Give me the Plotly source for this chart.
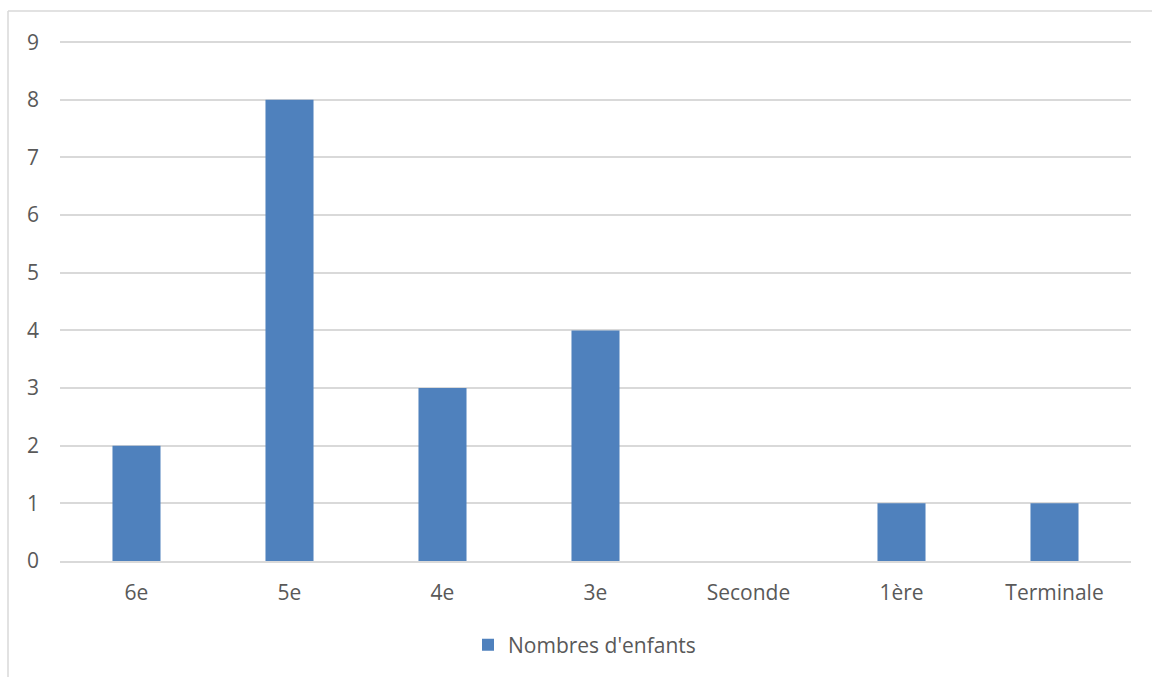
import plotly.graph_objects as go

categories = ["6e", "5e", "4e", "3e", "Seconde", "1ère", "Terminale"]
values = [2, 8, 3, 4, 0, 1, 1]
series_name = "Nombres d'enfants"

W, H = 1152, 677
L, R, T, B = 60, 1131, 41, 561  # plot area pixel bounds

def px(x):
    return (x - L) / (R - L)

def py(y):
    return (B - y) / (B - T)

fig = go.Figure()
fig.add_trace(go.Bar(
    x=categories, y=values, name=series_name,
    marker=dict(color="#4F81BD", line=dict(width=0)),
))

font = dict(family="Open Sans, Liberation Sans, sans-serif", size=21, color="#595959")

fig.update_layout(
    width=W, height=H,
    margin=dict(l=L, r=W - R, t=T, b=H - B, pad=0, autoexpand=False),
    paper_bgcolor="white", plot_bgcolor="white",
    font=font,
    bargap=0.686,
    showlegend=True,
    legend=dict(orientation="h", x=px(468), xanchor="left", y=py(645), yanchor="middle",
                font=font, itemwidth=30),
    xaxis=dict(showgrid=False, showline=True, linecolor="#D9D9D9", linewidth=1.5,
               ticks="", ticklabelstandoff=12, tickfont=font),
    yaxis=dict(range=[0, 9.02], tickvals=list(range(10)), showgrid=True, gridcolor="#D9D9D9",
               gridwidth=1.5, zeroline=False, showline=False, ticks="", ticklabelstandoff=20,
               tickfont=font),
    shapes=[
        dict(type="line", xref="paper", yref="paper", x0=px(8), x1=px(1160), y0=py(11), y1=py(11),
             line=dict(color="#D9D9D9", width=1.5)),
        dict(type="line", xref="paper", yref="paper", x0=px(8), x1=px(8), y0=py(11), y1=py(690),
             line=dict(color="#D9D9D9", width=1.5)),
    ],
)

fig.write_html(
    "out.html",
    config={"displayModeBar": False},
    post_script="document.body.style.margin='0';document.body.style.overflow='hidden';",
)
